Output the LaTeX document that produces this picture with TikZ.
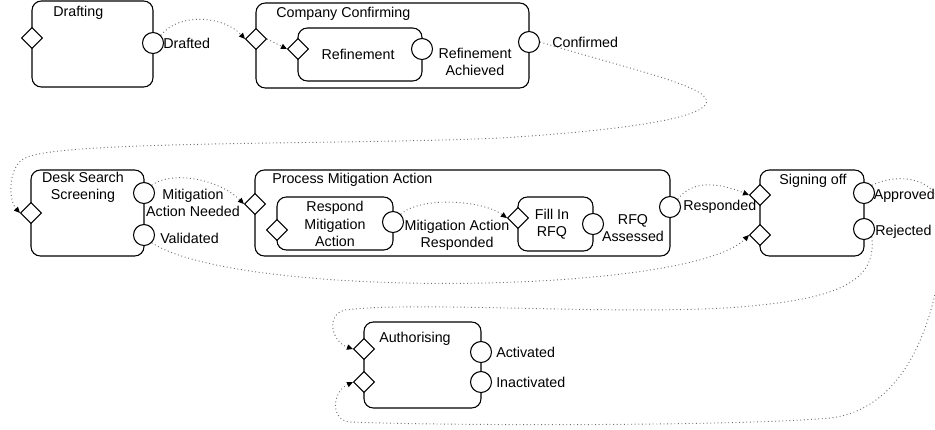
\documentclass[tikz,border=0pt]{standalone}
\usepackage{fontspec}
\setmainfont{Liberation Sans}
\usepackage{tikz}
\usetikzlibrary{shapes.geometric,arrows.meta}
\definecolor{flowgray}{RGB}{110,110,110}

\begin{document}
\begin{tikzpicture}[x=0.75pt,y=-0.75pt,
    font=\fontsize{10.7}{13}\selectfont,
    statebox/.style={draw, line width=0.8pt, rounded corners=7pt},
    boxsize/.style 2 args={minimum width=#1*0.75pt, minimum height=#2*0.75pt},
    inport/.style={draw, diamond, fill=white, inner sep=0pt, minimum size=15.75pt, line width=0.8pt},
    outport/.style={draw, circle, fill=white, inner sep=0pt, minimum size=15.75pt, line width=0.8pt},
    title/.style={anchor=west, inner sep=0pt},
    lbl/.style={anchor=west, inner sep=0pt},
    flow/.style={draw=flowgray, dotted, line width=0.7pt, -{Triangle[length=4.5pt,width=4pt,color=black]}}]
    \useasboundingbox (0,0) rectangle (935,429);
    % boxes
    \node[statebox, boxsize={121}{86}] (draftBox) at (92.5,44) {};
    \node[statebox, boxsize={273}{85}] (compBox) at (392.5,45.5) {};
    \node[statebox, boxsize={124}{53}] (refBox) at (360,54.5) {};
    \node[statebox, boxsize={113}{86}] (deskBox) at (87.5,213) {};
    \node[statebox, boxsize={415}{86}] (procBox) at (462.5,213) {};
    \node[statebox, boxsize={116}{53}] (respBox) at (335,223.5) {};
    \node[statebox, boxsize={75}{54}] (rfqBox) at (555.5,224) {};
    \node[statebox, boxsize={104}{86}] (signBox) at (812,213) {};
    \node[statebox, boxsize={117}{86}] (authBox) at (422.5,365) {};
    % titles
    \node[title] (draftTitle) at (53,13) {Drafting};
    \node[title] (compTitle) at (276,14) {Company Confirming};
    \node (refTitle) at (358,54) {Refinement};
    \node[align=center] (deskTitle) at (83,187) {Desk Search\\Screening};
    \node[title] (procTitle) at (272,180) {Process Mitigation Action};
    \node[align=center] (respTitle) at (335,224) {Respond\\Mitigation\\Action};
    \node[align=center] (rfqTitle) at (552,224) {Fill In\\RFQ};
    \node (signTitle) at (813,181) {Signing off};
    \node[title] (authTitle) at (379,339) {Authorising};
    % ports
    \node[inport] (draftIn) at (32,38) {};
    \node[outport] (draftOut) at (153,43) {};
    \node[inport] (compIn) at (256,39) {};
    \node[outport] (compOut) at (529,42) {};
    \node[inport] (refIn) at (298,49) {};
    \node[outport] (refOut) at (422,49) {};
    \node[inport] (deskIn) at (31,213) {};
    \node[outport] (needOut) at (144,193) {};
    \node[outport] (validOut) at (144,235) {};
    \node[inport] (procIn) at (255,204) {};
    \node[outport] (procOut) at (670,207) {};
    \node[inport] (respIn) at (277,230) {};
    \node[outport] (respOut) at (393,222) {};
    \node[inport] (rfqIn) at (518,218) {};
    \node[outport] (rfqOut) at (593,224) {};
    \node[inport] (signInA) at (760,195) {};
    \node[inport] (signInB) at (760,235) {};
    \node[outport] (apprOut) at (864,193) {};
    \node[outport] (rejOut) at (864,229) {};
    \node[inport] (authInA) at (364,349) {};
    \node[inport] (authInB) at (364,382) {};
    \node[outport] (actOut) at (481,352) {};
    \node[outport] (inactOut) at (481,382) {};
    % port labels
    \node[lbl] (draftedLbl) at (163,43) {Drafted};
    \node[align=center] (refLbl) at (475,62) {Refinement\\Achieved};
    \node[lbl] (confLbl) at (552,42) {Confirmed};
    \node[align=center] (needLbl) at (193,203) {Mitigation\\Action Needed};
    \node[lbl] (validLbl) at (160,238) {Validated};
    \node[align=center] (respLbl) at (457,235) {Mitigation Action\\Responded};
    \node[align=center] (rfqLbl) at (633,228) {RFQ\\Assessed};
    \node[lbl] (procLbl) at (683,207) {Responded};
    \node[lbl] (apprLbl) at (873.5,196) {Approved};
    \node[lbl] (rejLbl) at (875,232) {Rejected};
    \node[lbl] (actLbl) at (496,352) {Activated};
    \node[lbl] (inactLbl) at (496,382) {Inactivated};
    % transitions
    \draw[flow] (draftOut.north east) .. controls +(20,-24) and +(-20,-22) .. (compIn.west);
    \draw[flow] (compIn.east) -- (refIn.west);
    \draw[flow] (compOut.east) .. controls (640,72) and (715,88) .. (706,104) .. controls (698,118) and (630,130) .. (500,138)
        .. controls (350,145) and (60,140) .. (25,158) .. controls (8,166) and (8,200) .. (deskIn.west);
    \draw[flow] (needOut.north east) .. controls +(20,-15) and +(-25,-25) .. (procIn.west);
    \draw[flow] (validOut.south east) .. controls (240,300) and (690,295) .. (signInB.west);
    \draw[flow] (respOut.north east) .. controls +(20,-18) and +(-25,-18) .. (rfqIn.west);
    \draw[flow] (procOut.north east) .. controls +(15,-20) and +(-30,-12) .. (signInA.west);
    \draw[flow] (rejOut.south east) .. controls (876,275) and (850,296) .. (760,305) .. controls (650,318) and (420,300) .. (345,310)
        .. controls (325,315) and (332,342) .. (authInA.west);
    \draw[flow] (apprOut.north east) .. controls (905,170) and (948,180) .. (944,230) .. controls (940,300) and (915,408) .. (830,418)
        .. controls (745,426) and (450,426) .. (350,422) .. controls (330,420) and (332,392) .. (authInB.west);
\end{tikzpicture}
\end{document}
